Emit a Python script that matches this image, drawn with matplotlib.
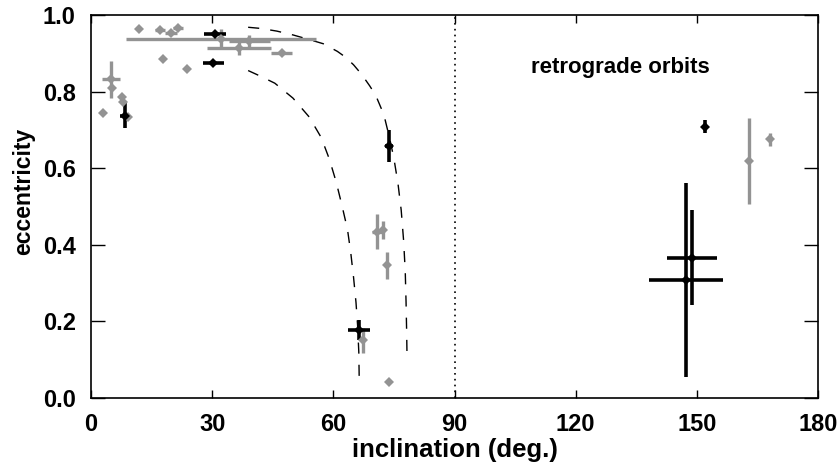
import matplotlib
matplotlib.use('Agg')
import matplotlib.pyplot as plt

plt.rcParams['font.family'] = ['Liberation Sans', 'DejaVu Sans']
plt.rcParams['font.weight'] = 'bold'

# gray systems: inclination, eccentricity, errors
gray_inc = [2.9, 4.9, 5.1, 7.6, 8.0, 9.2, 11.9, 17.1, 17.9, 19.8, 21.5, 23.7,
            32.2, 39.2, 36.6, 47.2, 67.3, 70.9, 72.2, 73.3, 73.8, 162.9, 168.1]
gray_ecc = [0.745, 0.832, 0.809, 0.785, 0.772, 0.734, 0.963, 0.962, 0.885, 0.954, 0.965, 0.859,
            0.937, 0.932, 0.913, 0.901, 0.151, 0.434, 0.439, 0.347, 0.043, 0.619, 0.676]
gray_inc_err = [0, 2.3, 0, 0, 0, 0, 0, 1.2, 0, 1.5, 1.3, 0,
                23.5, 5.0, 8.0, 2.6, 0, 1.4, 0, 0, 0, 0, 0.5]
gray_ecc_err = [0, 0.048, 0, 0, 0, 0, 0, 0, 0, 0, 0, 0,
                0.026, 0.016, 0.018, 0, 0.033, 0.046, 0.024, 0.035, 0, 0.112, 0.017]

# black systems
black_inc = [8.4, 30.7, 30.3, 66.3, 73.8, 147.3, 148.8, 152.0]
black_ecc = [0.737, 0.950, 0.875, 0.178, 0.658, 0.308, 0.366, 0.708]
black_inc_err = [1.15, 2.8, 2.7, 2.7, 1.0, 9.2, 6.1, 0.6]
black_ecc_err = [0.032, 0.008, 0.008, 0.026, 0.042, 0.253, 0.124, 0.017]

# dashed envelopes
outer_inc = [38.9, 42, 46, 50, 54, 57.5, 61, 63, 65, 67, 69, 70.5, 72.5, 74, 75,
             76, 76.8, 77.4, 77.8, 78.0, 78.15, 78.25]
outer_ecc = [0.968, 0.965, 0.958, 0.948, 0.936, 0.925, 0.905, 0.89, 0.87, 0.845, 0.815,
             0.79, 0.74, 0.675, 0.625, 0.56, 0.49, 0.41, 0.33, 0.25, 0.17, 0.10]
inner_inc = [38.9, 42, 45.5, 50, 54, 57, 59, 60.7, 62.1, 63.5, 64.3, 65.0, 65.6, 66.0, 66.3, 66.4]
inner_ecc = [0.855, 0.84, 0.822, 0.783, 0.734, 0.68, 0.624, 0.564, 0.504, 0.44, 0.38,
             0.315, 0.25, 0.19, 0.12, 0.05]

gray = '#939393'

fig = plt.figure(figsize=(8.39, 4.62), dpi=100)
ax = fig.add_axes([0.1085, 0.1385, 0.8665, 0.829])

ax.plot(outer_inc, outer_ecc, color='black', lw=1.0, ls=(0, (8, 8)))
ax.plot(inner_inc, inner_ecc, color='black', lw=1.0, ls=(0, (8, 8)))
ax.axvline(90, color='black', lw=1.2, ls=(0, (1, 2.5)))

ax.errorbar(gray_inc, gray_ecc, xerr=gray_inc_err, yerr=gray_ecc_err, fmt='D',
            color=gray, ms=5.2, elinewidth=2.4, capsize=0, mew=0)
ax.errorbar(black_inc, black_ecc, xerr=black_inc_err, yerr=black_ecc_err, fmt='D',
            color='black', ms=5.0, elinewidth=2.6, capsize=0, mew=0)

ax.text(131, 0.862, 'retrograde orbits', fontsize=16, fontweight='bold',
        ha='center', va='center')

ax.set_xlim(0, 180)
ax.set_ylim(0, 1.0)
ax.set_xticks([0, 30, 60, 90, 120, 150, 180])
ax.set_yticks([0.0, 0.2, 0.4, 0.6, 0.8, 1.0])
ax.set_yticklabels(['0.0', '0.2', '0.4', '0.6', '0.8', '1.0'])
ax.tick_params(axis='x', direction='in', length=6, width=1, top=True, pad=11, labelsize=17)
ax.tick_params(axis='y', direction='in', length=10, width=1, right=True, pad=11, labelsize=17)
for s in ax.spines.values():
    s.set_linewidth(1.2)

ax.set_xlabel('inclination (deg.)', fontsize=18.5, fontweight='bold')
ax.set_ylabel('eccentricity', fontsize=16.5, fontweight='bold')
ax.xaxis.set_label_coords(0.5, -0.104)
ax.yaxis.set_label_coords(-0.077, 0.54)

fig.savefig('out.png', dpi=100)
